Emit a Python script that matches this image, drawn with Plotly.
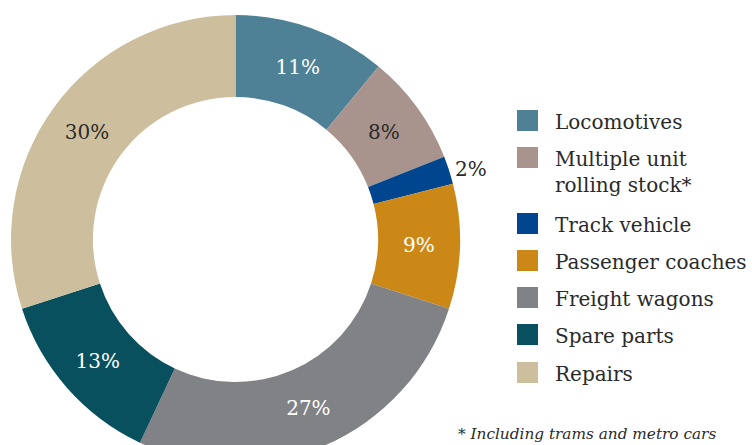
import plotly.graph_objects as go

labels = ["Locomotives", "Multiple unit<br>rolling stock*", "Track vehicle", "Passenger coaches",
          "Freight wagons", "Spare parts", "Repairs"]
values = [11, 8, 2, 9, 27, 13, 30]
colors = ["#4E8196", "#A8948C", "#00468E", "#CC8817", "#818286", "#09505F", "#CDBF9E"]
text_colors = ["#ffffff", "#2a2a2a", "#2a2a2a", "#ffffff", "#ffffff", "#ffffff", "#2a2a2a"]
text_pos = ["inside", "inside", "outside", "inside", "inside", "inside", "inside"]
footnote = "* Including trams and metro cars"

W, H = 752, 470
FONT = "DejaVu Serif"

cx, cy, R = 235.5, 239.5, 224.5

fig = go.Figure()
fig.add_trace(go.Pie(
    labels=labels, values=values, sort=False, direction="clockwise", rotation=0,
    hole=0.635,
    marker=dict(colors=colors, line=dict(width=0)),
    text=[f"{v}%" for v in values], textinfo="text", textposition=text_pos,
    insidetextorientation="horizontal",
    insidetextfont=dict(color=text_colors, family=FONT, size=20),
    outsidetextfont=dict(color="#2a2a2a", family=FONT, size=20),
    showlegend=False, hoverinfo="label+value",
    domain=dict(x=[(cx - R) / W, (cx + R) / W], y=[1 - (cy + R) / H, 1 - (cy - R) / H]),
))

# manual legend
shapes = []
annotations = []
rows_top = [110, 147, 213, 250, 287, 324, 362]
for lab, col, top in zip(labels, colors, rows_top):
    shapes.append(dict(type="rect", xref="paper", yref="paper",
                       x0=517 / W, x1=538 / W, y0=1 - (top + 21) / H, y1=1 - top / H,
                       fillcolor=col, line=dict(width=0)))
    annotations.append(dict(xref="paper", yref="paper", x=553 / W, y=1 - (top - 2) / H,
                            xanchor="left", yanchor="top", align="left", showarrow=False,
                            text=lab, font=dict(family=FONT, size=20, color="#2a2a2a")))
annotations.append(dict(xref="paper", yref="paper", x=456 / W, y=1 - 423 / H,
                        xanchor="left", yanchor="top", showarrow=False,
                        text=f"<i>{footnote}</i>", font=dict(family=FONT, size=15.3, color="#2a2a2a")))

fig.update_layout(width=W, height=H, margin=dict(l=0, r=0, t=0, b=0),
                  paper_bgcolor="white", plot_bgcolor="white",
                  shapes=shapes, annotations=annotations)

fig.write_html("out.html", config={"displayModeBar": False},
               post_script="document.body.style.margin='0';document.body.style.overflow='hidden';")
